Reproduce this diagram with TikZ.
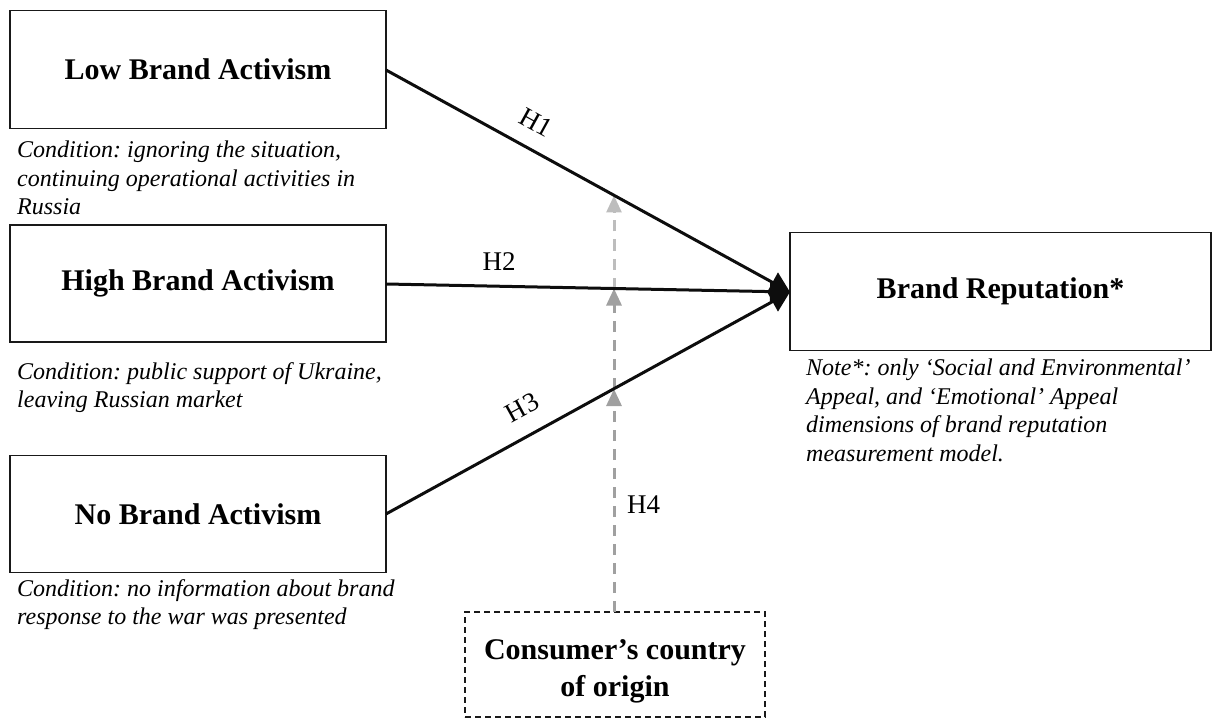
\documentclass[tikz,border=0pt]{standalone}
\usepackage{fontspec}
\setmainfont{Liberation Serif}
\usetikzlibrary{arrows.meta}
\definecolor{dgray}{HTML}{A0A0A0}
\definecolor{lgray}{HTML}{BDBDBD}
\tikzset{
  varbox/.style={draw=black!90, line width=1.3pt, inner sep=0pt, font=\fontsize{30}{37}\selectfont\bfseries, align=center},
  condtext/.style={inner sep=0pt, anchor=north west, align=left, font=\frenchspacing\fontsize{24}{28.5}\selectfont\itshape},
  effect/.style={line width=3pt, draw=black!95, -{Triangle[length=20pt,width=22pt]}},
  modline/.style={line width=3pt, draw=#1, dash pattern=on 11pt off 8pt, -{Triangle[length=17pt,width=15pt,fill=#1]}},
  hlabel/.style={font=\fontsize{27}{30}\selectfont, inner sep=3pt}
}
\begin{document}
\begin{tikzpicture}[x=1pt,y=-1pt]
\useasboundingbox (0,0) rectangle (1214,719);
% boxes
\node[varbox, minimum width=376pt, minimum height=118pt] (low) at (198,69.5) {Low Brand Activism};
\node[varbox, minimum width=376pt, minimum height=117pt] (high) at (198,283.5) {High Brand Activism};
\node[varbox, minimum width=376pt, minimum height=117pt] (no) at (198,514) {No Brand Activism};
\node[varbox, minimum width=421pt, minimum height=118pt] (rep) at (1000.5,291.5) {Brand Reputation*};
\node[varbox, dashed, dash pattern=on 6pt off 4pt, minimum width=300pt, minimum height=105pt] (cons) at (615,664.5) {\rule{0pt}{33pt}Consumer’s country\\of origin};
% condition texts
\node[condtext] (c1) at (17,141) {Condition: ignoring the situation,\\continuing operational activities in\\Russia};
\node[condtext] (c2) at (17,362) {Condition: public support of Ukraine,\\leaving Russian market};
\node[condtext] (c3) at (17,579) {Condition: no information about brand\\response to the war was presented};
\node[condtext] (note) at (806,359) {Note*: only ‘Social and Environmental’\\Appeal, and ‘Emotional’ Appeal\\dimensions of brand reputation\\measurement model.};
% endpoints
\coordinate (lowout) at (386,70);
\coordinate (highout) at (386,284);
\coordinate (noout) at (386,514);
\coordinate (target) at (790,292);
\coordinate (m1) at (614,195.5);
\coordinate (m2) at (614,288.5);
\coordinate (m3) at (614,389);
\coordinate (mbase) at (614,612);
% moderation
\draw[modline=dgray] (mbase) -- (m3);
\draw[modline=dgray] (m3) -- (m2);
\draw[modline=lgray] (m2) -- (m1);
\node[hlabel, anchor=west] (h4) at (624,505) {H4};
% effects
\draw[effect] (lowout) -- node[hlabel, pos=0.34, above=13pt, sloped] (h1) {H1} (target);
\draw[effect] (highout) -- node[hlabel, pos=0.28, above=11pt] (h2) {H2} (target);
\draw[effect] (noout) -- node[hlabel, pos=0.37, above=14pt, sloped] (h3) {H3} (target);
\end{tikzpicture}
\end{document}
